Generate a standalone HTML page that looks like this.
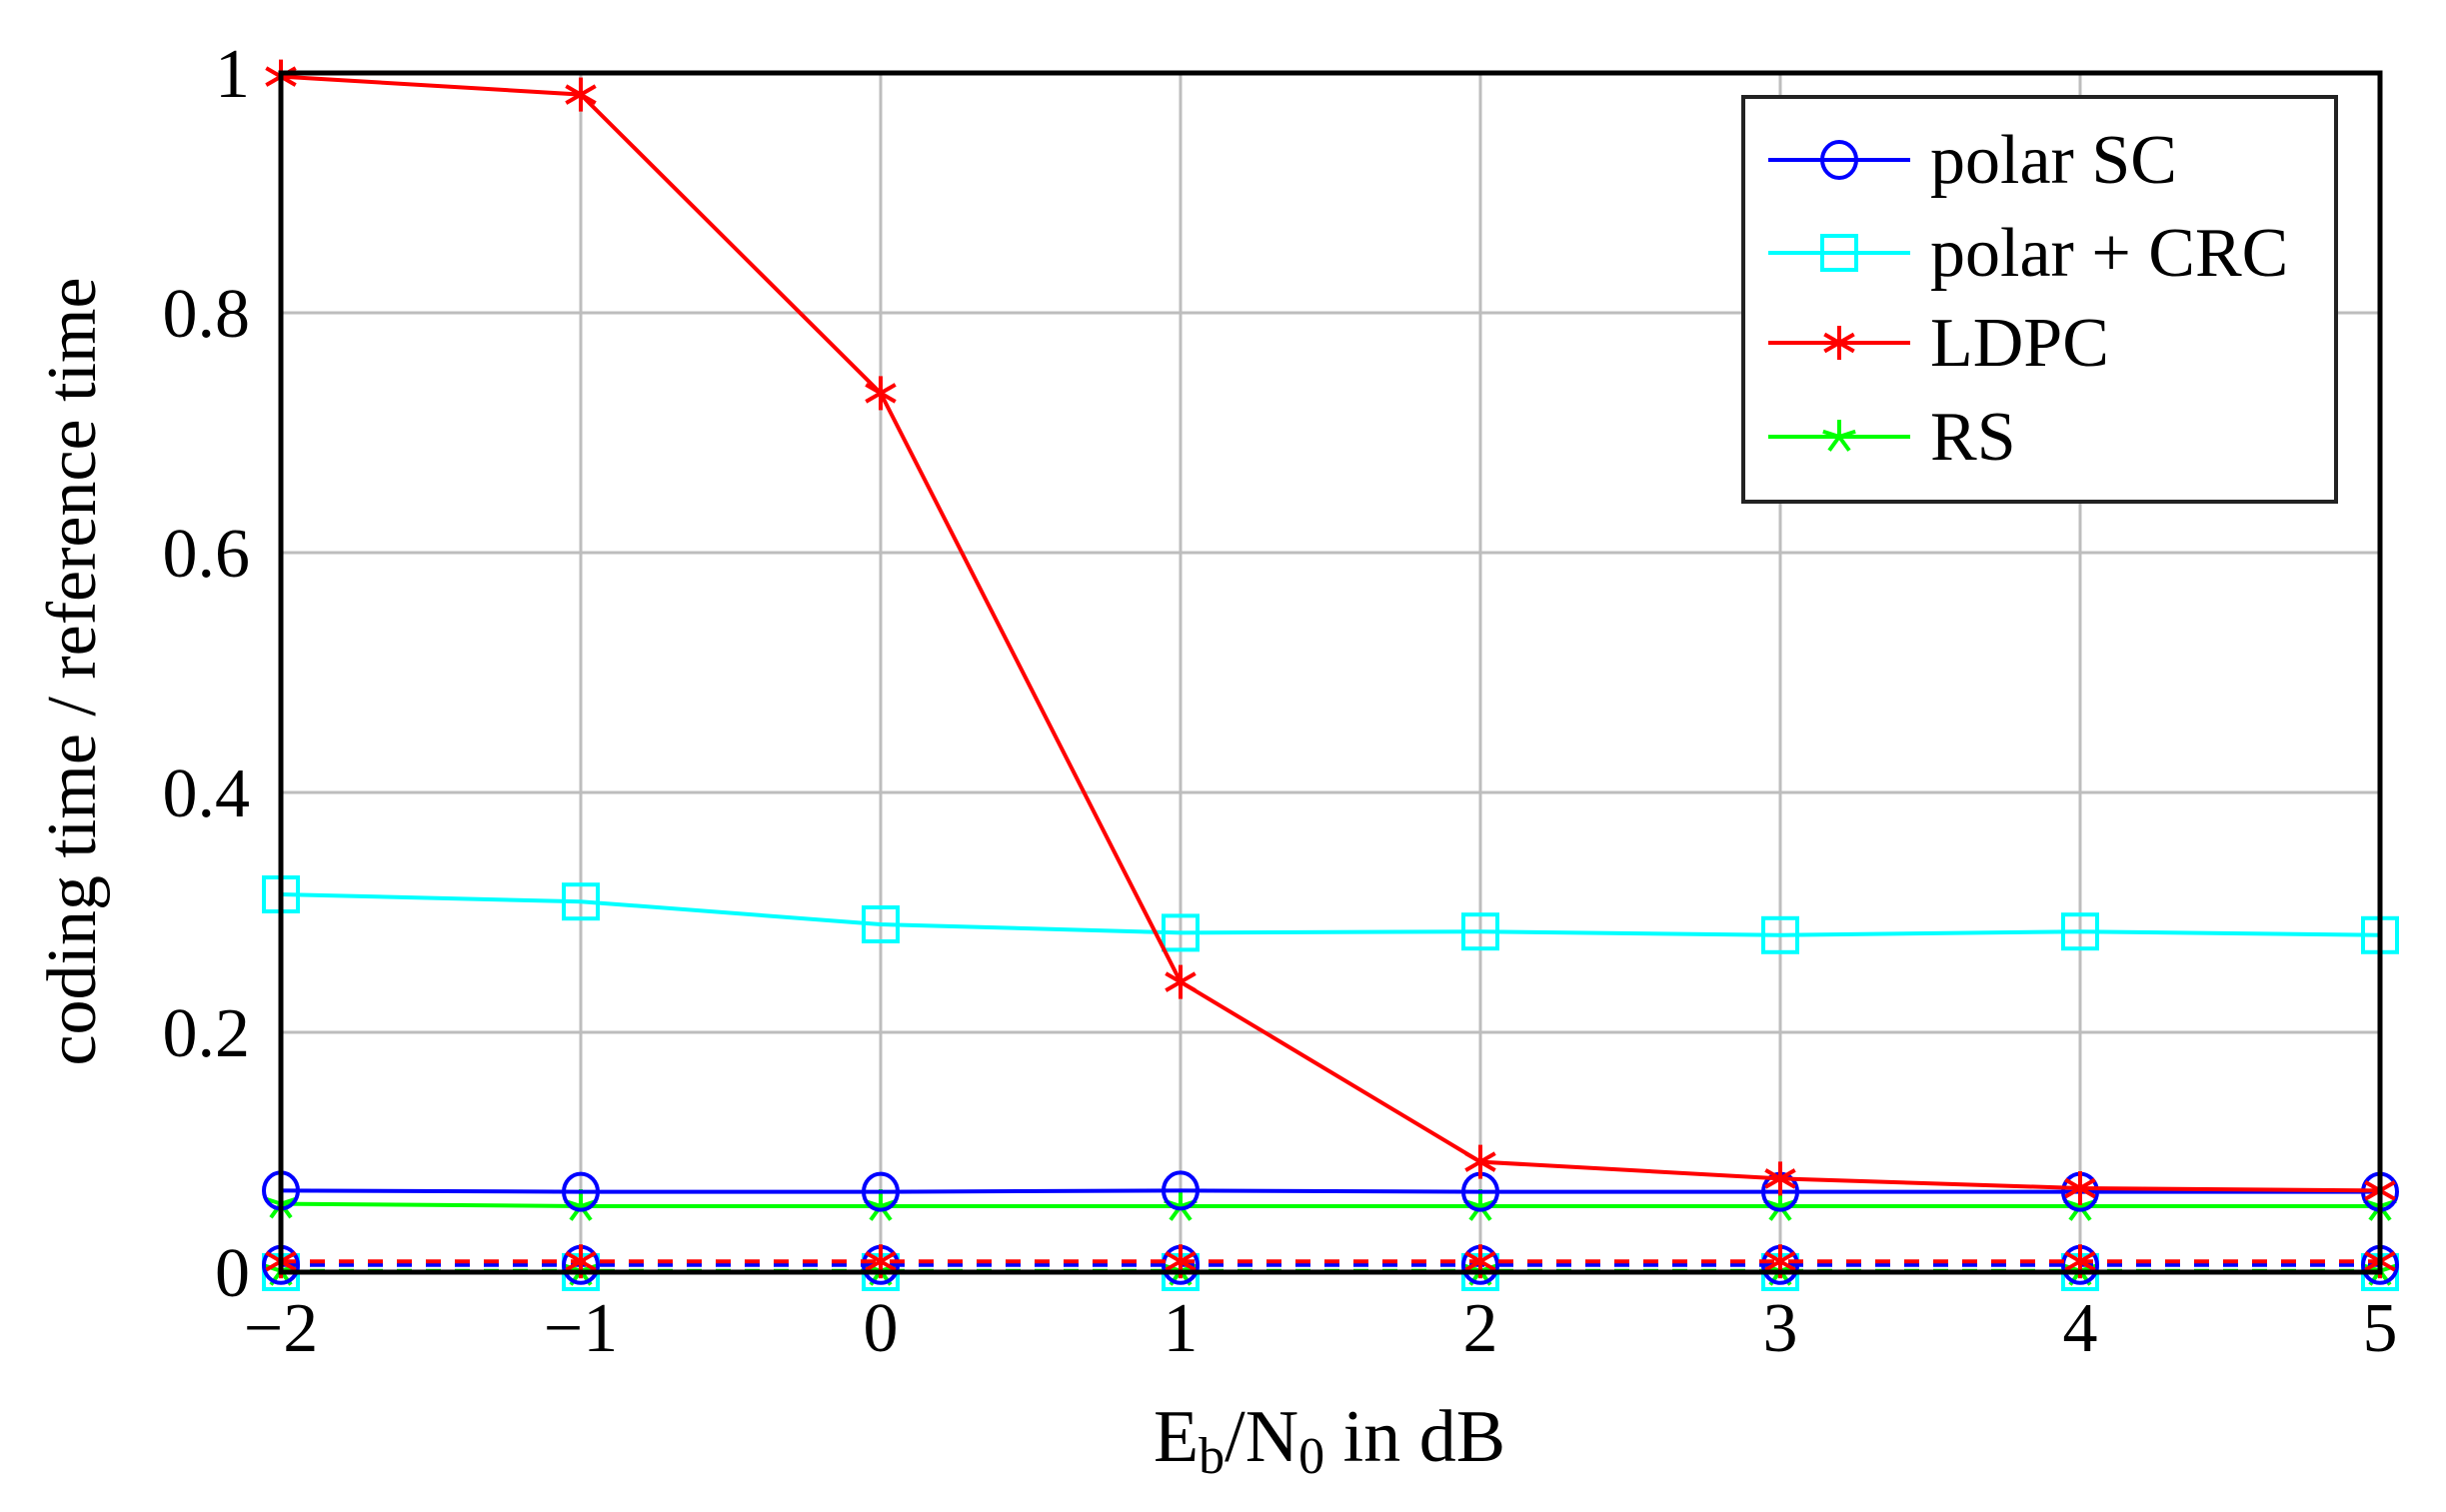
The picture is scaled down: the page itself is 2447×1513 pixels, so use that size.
<!DOCTYPE html>
<html><head><meta charset="utf-8"><style>
html,body{margin:0;padding:0;background:#fff}
svg{display:block}
text{font-family:"Liberation Serif",serif;fill:#000}
</style></head><body>
<svg id="s" width="2447" height="1513" viewBox="0 0 2447 1513" xmlns="http://www.w3.org/2000/svg"></svg>
<script>
const s=document.getElementById('s');
const X=v=>281+(v+2)*300, Y=v=>1273-v*1200;
let h='';
for(let i=-1;i<=4;i++) h+=`<line x1="${X(i)}" y1="73" x2="${X(i)}" y2="1273" stroke="#bdbdbd" stroke-width="3"/>`;
for(let v=0.2;v<0.99;v+=0.2) h+=`<line x1="281" y1="${Y(v)}" x2="2381" y2="${Y(v)}" stroke="#bdbdbd" stroke-width="3"/>`;
const xl=['\u22122','\u22121','0','1','2','3','4','5'];
xl.forEach((t,i)=>h+=`<text x="${X(i-2)}" y="1352" font-size="70" text-anchor="middle">${t}</text>`);
['0','0.2','0.4','0.6','0.8','1'].forEach((t,i)=>h+=`<text x="250" y="${Y(i*0.2)+24}" font-size="70" text-anchor="end">${t}</text>`);
h+=`<text x="1330" y="1462" font-size="74" text-anchor="middle">E<tspan font-size="52" dy="12">b</tspan><tspan dy="-12">/N</tspan><tspan font-size="52" dy="12">0</tspan><tspan dy="-12"> in dB</tspan></text>`;
h+=`<text transform="translate(95,672) rotate(-90)" font-size="70" text-anchor="middle">coding time / reference time</text>`;
const xs=[-2,-1,0,1,2,3,4,5];
function mk(type,x,y,c){
 if(type=='o') return `<ellipse cx="${x}" cy="${y}" rx="17" ry="18" fill="none" stroke="${c}" stroke-width="4"/>`;
 if(type=='s') return `<rect x="${x-17}" y="${y-17}" width="34" height="34" fill="none" stroke="${c}" stroke-width="4"/>`;
 if(type=='*'){let r='';for(let a=0;a<6;a++){const t=a*Math.PI/3+Math.PI/2;r+=`<line x1="${x}" y1="${y}" x2="${x+17*Math.cos(t)}" y2="${y-17*Math.sin(t)}" stroke="${c}" stroke-width="4"/>`;}return r;}
 if(type=='x'){let r='';for(let a=0;a<5;a++){const t=a*2*Math.PI/5+Math.PI/2;r+=`<line x1="${x}" y1="${y}" x2="${x+17*Math.cos(t)}" y2="${y-17*Math.sin(t)}" stroke="${c}" stroke-width="4"/>`;}return r;}
 return '';
}
function series(d,c,type,dash){
 const pts=xs.map((x,i)=>X(x)+','+Y(d[i])).join(' ');
 let r=`<polyline points="${pts}" fill="none" stroke="${c}" stroke-width="4" ${dash?'stroke-dasharray="15 14"':''}/>`;
 xs.forEach((x,i)=>r+=mk(type,X(x),Y(d[i]),c));
 return r;
}
h+=series(xs.map(_=>0.0),'#00ffff','s',true);
h+=series(xs.map(_=>0.001),'#00ff00','x',true);
h+=`<line x1="281" y1="1273" x2="2381" y2="1273" stroke="#000" stroke-width="5"/>`;
h+=series(xs.map(_=>0.006),'#0000ff','o',true);
h+=series(xs.map(_=>0.009),'#ff0000','*',true);
h+=series([0.315,0.309,0.29,0.283,0.284,0.281,0.284,0.281],'#00ffff','s');
h+=series([0.057,0.055,0.055,0.055,0.055,0.055,0.055,0.055],'#00ff00','x');
h+=series([0.068,0.067,0.067,0.068,0.067,0.067,0.067,0.067],'#0000ff','o');
h+=series([0.997,0.982,0.733,0.242,0.092,0.078,0.07,0.068],'#ff0000','*');
h+=`<rect x="281" y="73" width="2100" height="1200" fill="none" stroke="#000" stroke-width="5"/>`;
h+=`<rect x="1744" y="97" width="593" height="405" fill="#fff" stroke="#222" stroke-width="4"/>`;
const L=[['polar SC','#0000ff','o'],['polar + CRC','#00ffff','s'],['LDPC','#ff0000','*'],['RS','#00ff00','x']];
L.forEach((e,i)=>{const y=[160,253,343,437][i];
 h+=`<line x1="1769" y1="${y}" x2="1911" y2="${y}" stroke="${e[1]}" stroke-width="4"/>`+mk(e[2],1840,y,e[1]);
 h+=`<text x="1931" y="${y+23}" font-size="70">${e[0]}</text>`;});
s.innerHTML=h;
</script>
</body></html>
